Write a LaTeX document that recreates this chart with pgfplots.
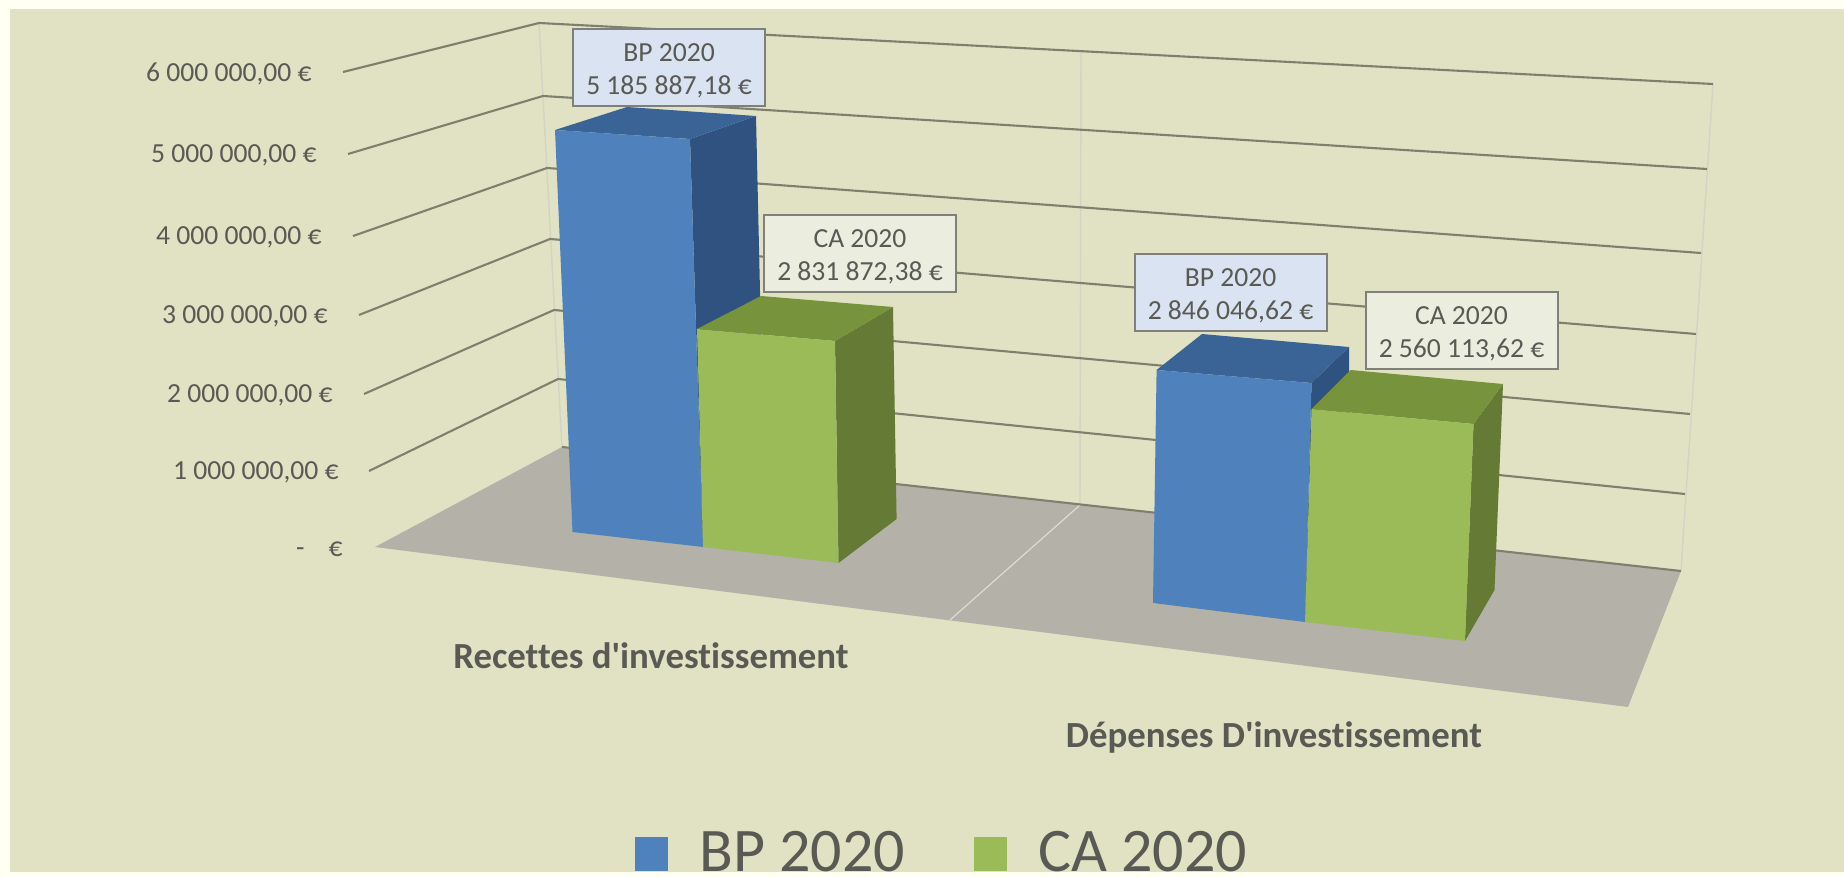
\documentclass[border=0pt]{standalone}
\usepackage{pgfplots}
\pgfplotsset{compat=1.18}
\usepackage{fontspec}
\setmainfont{Carlito}[Ligatures={NoCommon}]
\newfontfamily\catfont{Carlito}[Ligatures={NoCommon}]
\definecolor{outer}{HTML}{FFFFF2}
\definecolor{bgc}{HTML}{E1E2C3}
\definecolor{floorc}{HTML}{B3B1A8}
\definecolor{gridc}{HTML}{7F7F6E}
\definecolor{wallc}{HTML}{D3D3C6}
\definecolor{floorl}{HTML}{DCDCD2}
\definecolor{txt}{HTML}{5A5A55}
\definecolor{bluef}{HTML}{4F81BD}
\definecolor{bluet}{HTML}{3A6496}
\definecolor{blues}{HTML}{2F5280}
\definecolor{greenf}{HTML}{9BBB59}
\definecolor{greent}{HTML}{77933C}
\definecolor{greens}{HTML}{647A35}
\definecolor{boxb}{HTML}{D9E3F2}
\definecolor{boxg}{HTML}{EBEEDF}
\definecolor{boxl}{HTML}{80807A}
\tikzset{
  lab/.style={font=\fontsize{13.8pt}{17pt}\selectfont, text=txt, inner sep=0pt},
  box/.style={draw=boxl, line width=1pt, inner sep=0pt, minimum width=96pt, minimum height=38.5pt},
  boxt/.style={inner sep=0pt, text=txt, align=center, font=\fontsize{13.8pt}{16.5pt}\selectfont},
}
\begin{document}
% Projected 3-D column chart: the axis runs in picture units, so each face
% is the polygon. Values: 5185887.18, 2831872.38,
% 2846046.62, 2560113.62 (see the labels).
\begin{tikzpicture}
\begin{axis}[
  scale only axis, width=922pt, height=438.5pt,
  xmin=0, xmax=1844, ymin=0, ymax=877, y dir=reverse,
  hide axis, clip=true,
  every axis plot/.append style={forget plot},
]
% page
\addplot[fill=outer, draw=none] coordinates {(0,0) (1844,0) (1844,877) (0,877)} --cycle;
\addplot[fill=bgc, draw=none] coordinates {(10,9) (1844,9) (1844,872) (10,872)} --cycle;
% floor
\addplot[fill=floorc, draw=none] coordinates {(375,547) (562,447) (1681,571) (1628,707)} --cycle;
% walls and floor divisions
\addplot[wallc, line width=0.7pt] coordinates {(539,23) (562,447)};
\addplot[wallc, line width=0.7pt] coordinates {(1081,51) (1080,505)};
\addplot[wallc, line width=0.7pt] coordinates {(1713,84) (1681,571)};
\addplot[floorl, line width=0.6pt] coordinates {(1080,505) (950,620)};
% value grid lines
\addplot[gridc, line width=1.05pt] coordinates {(343,72) (539,23) (1713,84)};
\addplot[gridc, line width=1.05pt] coordinates {(348,154) (543,96) (1707,169)};
\addplot[gridc, line width=1.05pt] coordinates {(353,236) (547,168) (1701,253)};
\addplot[gridc, line width=1.05pt] coordinates {(359,315) (550,239) (1696,334)};
\addplot[gridc, line width=1.05pt] coordinates {(364,394) (554,310) (1690,414)};
\addplot[gridc, line width=1.05pt] coordinates {(369,471) (558,379) (1685,494)};
\addplot[gridc, line width=1.05pt] coordinates {(562,447) (1681,571)};
% Recettes BP 2020
\addplot[fill=blues, draw=none] coordinates {(690,139) (756,116) (765,510) (703,547)} --cycle;
\addplot[fill=bluet, draw=none] coordinates {(555,130) (627,107) (756,116) (690,139)} --cycle;
\addplot[fill=bluef, draw=none] coordinates {(555,130) (690,139) (703,547) (572.5,532)} --cycle;
% Recettes CA 2020
\addplot[fill=greens, draw=none] coordinates {(835,341) (893,307) (896.6,519) (838.5,563)} --cycle;
\addplot[fill=greent, draw=none] coordinates {(697,329) (761,296) (893,307) (835,341)} --cycle;
\addplot[fill=greenf, draw=none] coordinates {(697,329) (835,341) (838.5,563) (703,547)} --cycle;
% Depenses BP 2020
\addplot[fill=blues, draw=none] coordinates {(1311.5,383) (1349,347) (1351,600) (1305,622)} --cycle;
\addplot[fill=bluet, draw=none] coordinates {(1156.6,370) (1202,334) (1349,347) (1311.5,383)} --cycle;
\addplot[fill=bluef, draw=none] coordinates {(1156.6,370) (1311.5,383) (1305,622) (1153,603)} --cycle;
% Depenses CA 2020
\addplot[fill=greens, draw=none] coordinates {(1473.5,424) (1503,384) (1494.5,590) (1465,641)} --cycle;
\addplot[fill=greent, draw=none] coordinates {(1311.5,409) (1350.6,370) (1503,384) (1473.5,424)} --cycle;
\addplot[fill=greenf, draw=none] coordinates {(1311.5,409) (1473.5,424) (1465,641) (1305,622)} --cycle;
% legend swatches
\addplot[fill=bluef, draw=none] coordinates {(634.6,837) (667.6,837) (667.6,871) (634.6,871)} --cycle;
\addplot[fill=greenf, draw=none] coordinates {(974,837) (1007,837) (1007,871) (974,871)} --cycle;
% value boxes
\node[box, fill=boxb] at (axis cs:669,67.5) {};
\node[boxt] at (axis cs:669,70.5) {BP 2020\\5 185 887,18 €};
\node[box, fill=boxg] at (axis cs:860,253.5) {};
\node[boxt] at (axis cs:860,256.5) {CA 2020\\2 831 872,38 €};
\node[box, fill=boxb] at (axis cs:1230.5,292.5) {};
\node[boxt] at (axis cs:1230.5,295.5) {BP 2020\\2 846 046,62 €};
\node[box, fill=boxg] at (axis cs:1461.5,330.5) {};
\node[boxt] at (axis cs:1461.5,333.5) {CA 2020\\2 560 113,62 €};
% tick labels
\node[lab, anchor=east] at (axis cs:312,74) {6 000 000,00 €};
\node[lab, anchor=east] at (axis cs:317,155.5) {5 000 000,00 €};
\node[lab, anchor=east] at (axis cs:322,237) {4 000 000,00 €};
\node[lab, anchor=east] at (axis cs:328,316) {3 000 000,00 €};
\node[lab, anchor=east] at (axis cs:333,395) {2 000 000,00 €};
\node[lab, anchor=east] at (axis cs:339,472) {1 000 000,00 €};
\node[lab, anchor=east] at (axis cs:343,549) {-\hspace{12pt}€};
% categories
\node[lab, anchor=center, font=\fontsize{18.4pt}{22pt}\selectfont\catfont\bfseries] at (axis cs:651,656) {Recettes d'investissement};
\node[lab, anchor=center, font=\fontsize{18.4pt}{22pt}\selectfont\catfont\bfseries] at (axis cs:1274,737) {Dépenses D'investissement};
% legend text
\node[lab, anchor=base west, font=\fontsize{31pt}{36pt}\selectfont] at (axis cs:699,871) {BP 2020};
\node[lab, anchor=base west, font=\fontsize{31pt}{36pt}\selectfont] at (axis cs:1038,871) {CA 2020};
\end{axis}
\end{tikzpicture}
\end{document}
